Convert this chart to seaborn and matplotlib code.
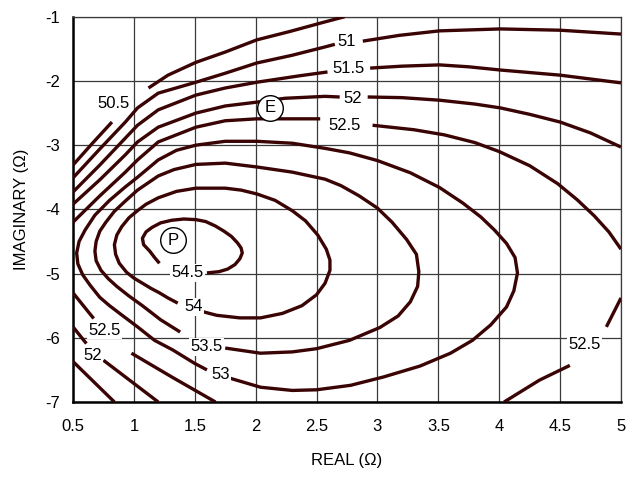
import pandas as pd
import seaborn as sns
import matplotlib.pyplot as plt

sns.set_style("whitegrid")
plt.rcParams["font.family"] = ["Liberation Sans", "DejaVu Sans"]
plt.rcParams["axes.unicode_minus"] = False

LINE_COLOR = "#3b0404"

# contour segments: real (ohm), imaginary (ohm)
c50_5a_x = [0.50, 0.66, 0.82]
c50_5a_y = [-3.31, -2.97, -2.64]
c50_5b_x = [1.12, 1.28, 1.51, 1.75, 2.01, 2.28, 2.57, 2.73]
c50_5b_y = [-2.11, -1.91, -1.71, -1.55, -1.36, -1.23, -1.08, -1.00]

c51a_x = [0.50, 0.72, 0.93, 1.03, 1.20, 1.51, 1.75, 2.01, 2.30, 2.57, 2.65]
c51a_y = [-3.51, -3.06, -2.64, -2.42, -2.19, -2.02, -1.88, -1.72, -1.60, -1.47, -1.43]
c51b_x = [2.88, 3.18, 3.51, 4.01, 4.50, 5.00]
c51b_y = [-1.38, -1.29, -1.22, -1.19, -1.21, -1.27]

c51_5a_x = [0.50, 0.72, 0.93, 1.03, 1.20, 1.51, 1.75, 2.01, 2.36, 2.59]
c51_5a_y = [-3.73, -3.31, -2.89, -2.69, -2.45, -2.22, -2.11, -2.02, -1.92, -1.86]
c51_5b_x = [2.94, 3.20, 3.51, 3.75, 4.01, 4.50, 5.00]
c51_5b_y = [-1.80, -1.77, -1.75, -1.78, -1.83, -1.91, -2.03]
c51_5c_x = [0.50, 0.84]
c51_5c_y = [-6.37, -7.00]

c52a_x = [0.50, 0.72, 0.93, 1.03, 1.20, 1.51, 1.75, 2.01, 2.24, 2.57, 2.69]
c52a_y = [-3.92, -3.54, -3.15, -2.95, -2.72, -2.50, -2.39, -2.33, -2.27, -2.24, -2.25]
c52b_x = [2.92, 3.20, 3.51, 3.80, 4.01, 4.25, 4.50, 4.75, 5.00]
c52b_y = [-2.25, -2.26, -2.30, -2.36, -2.42, -2.52, -2.64, -2.81, -3.03]
c52c_x = [0.50, 0.61]
c52c_y = [-5.83, -6.09]
c52d_x = [0.75, 1.20]
c52d_y = [-6.35, -7.00]

c52_5a_x = [0.50, 0.72, 0.93, 1.03, 1.20, 1.51, 1.75, 2.01, 2.53]
c52_5a_y = [-4.20, -3.79, -3.42, -3.23, -2.95, -2.72, -2.62, -2.59, -2.59]
c52_5b_x = [2.96, 3.30, 3.55, 3.80, 4.00, 4.25, 4.48, 4.64, 4.78, 4.90, 5.00]
c52_5b_y = [-2.69, -2.76, -2.84, -2.96, -3.10, -3.32, -3.60, -3.85, -4.10, -4.35, -4.62]
c52_5c_x = [5.00, 4.88]
c52_5c_y = [-5.38, -5.83]
c52_5d_x = [4.58, 4.33, 4.04]
c52_5d_y = [-6.43, -6.66, -7.00]
c52_5e_x = [0.50, 0.67]
c52_5e_y = [-5.30, -5.70]
c52_5f_x = [0.98, 1.32, 1.67]
c52_5f_y = [-6.24, -6.62, -7.00]

c53_x = [1.79, 2.04, 2.30, 2.50, 2.78, 3.05, 3.35, 3.60, 3.78, 3.93, 4.06, 4.12, 4.15,
         4.13, 4.06, 3.96, 3.85, 3.70, 3.51, 3.27, 3.00, 2.77, 2.57, 2.30, 2.01, 1.75,
         1.51, 1.35, 1.20, 1.03, 0.93, 0.80, 0.68, 0.60, 0.55, 0.53, 0.54, 0.58, 0.64,
         0.72, 0.80, 0.89, 1.03, 1.17, 1.32, 1.50, 1.60]
c53_y = [-6.63, -6.77, -6.82, -6.81, -6.74, -6.61, -6.44, -6.24, -6.04, -5.80, -5.52, -5.27, -4.99,
         -4.75, -4.53, -4.32, -4.12, -3.90, -3.66, -3.43, -3.24, -3.12, -3.05, -2.97, -2.94, -2.94,
         -3.00, -3.08, -3.23, -3.50, -3.65, -3.86, -4.09, -4.32, -4.50, -4.68, -4.85, -5.02, -5.18,
         -5.37, -5.50, -5.63, -5.83, -6.04, -6.19, -6.40, -6.50]

c53_5_x = [1.75, 2.04, 2.30, 2.50, 2.77, 3.02, 3.17, 3.27, 3.33, 3.34, 3.32, 3.24, 3.12,
           3.00, 2.85, 2.70, 2.57, 2.30, 2.01, 1.75, 1.51, 1.33, 1.20, 1.03, 0.93, 0.84,
           0.77, 0.72, 0.69, 0.68, 0.69, 0.73, 0.79, 0.86, 0.96, 1.07, 1.22, 1.38]
c53_5_y = [-6.16, -6.24, -6.22, -6.17, -6.04, -5.84, -5.66, -5.44, -5.20, -4.97, -4.70, -4.47, -4.20,
           -3.98, -3.79, -3.63, -3.53, -3.42, -3.34, -3.28, -3.30, -3.38, -3.48, -3.70, -3.87, -4.03,
           -4.20, -4.34, -4.50, -4.65, -4.80, -4.95, -5.08, -5.20, -5.35, -5.50, -5.72, -5.91]

c54_x = [1.54, 1.68, 1.87, 2.04, 2.22, 2.38, 2.50, 2.57, 2.61, 2.61, 2.58, 2.51, 2.41,
         2.30, 2.16, 2.01, 1.88, 1.75, 1.51, 1.35, 1.20, 1.10, 1.03, 0.96, 0.90, 0.86,
         0.84, 0.85, 0.88, 0.94, 1.00, 1.07, 1.14, 1.21, 1.28, 1.36]
c54_y = [-5.58, -5.65, -5.69, -5.69, -5.62, -5.50, -5.33, -5.15, -4.95, -4.79, -4.62, -4.40, -4.18,
         -4.02, -3.86, -3.76, -3.70, -3.67, -3.67, -3.72, -3.82, -3.92, -4.02, -4.13, -4.27, -4.40,
         -4.55, -4.70, -4.84, -4.98, -5.07, -5.15, -5.23, -5.30, -5.38, -5.46]

c54_5_x = [1.60, 1.70, 1.77, 1.83, 1.87, 1.89, 1.88, 1.85, 1.80, 1.74, 1.67, 1.59, 1.51,
           1.41, 1.31, 1.22, 1.15, 1.10, 1.07, 1.08, 1.13, 1.17, 1.21]
c54_5_y = [-4.99, -4.97, -4.93, -4.86, -4.77, -4.68, -4.60, -4.52, -4.42, -4.34, -4.26, -4.19, -4.16,
           -4.15, -4.17, -4.21, -4.28, -4.35, -4.45, -4.55, -4.65, -4.75, -4.84]

SEGMENTS = [
    ("50.5a", c50_5a_x, c50_5a_y), ("50.5b", c50_5b_x, c50_5b_y),
    ("51a", c51a_x, c51a_y), ("51b", c51b_x, c51b_y),
    ("51.5a", c51_5a_x, c51_5a_y), ("51.5b", c51_5b_x, c51_5b_y), ("51.5c", c51_5c_x, c51_5c_y),
    ("52a", c52a_x, c52a_y), ("52b", c52b_x, c52b_y), ("52c", c52c_x, c52c_y), ("52d", c52d_x, c52d_y),
    ("52.5a", c52_5a_x, c52_5a_y), ("52.5b", c52_5b_x, c52_5b_y), ("52.5c", c52_5c_x, c52_5c_y),
    ("52.5d", c52_5d_x, c52_5d_y), ("52.5e", c52_5e_x, c52_5e_y), ("52.5f", c52_5f_x, c52_5f_y),
    ("53", c53_x, c53_y), ("53.5", c53_5_x, c53_5_y), ("54", c54_x, c54_y), ("54.5", c54_5_x, c54_5_y),
]

# contour value labels
label_text = ["50.5", "51", "51.5", "52", "52.5", "54.5", "54", "53.5", "53", "52.5", "52", "52.5"]
label_x = [0.83, 2.75, 2.76, 2.80, 2.73, 1.44, 1.49, 1.60, 1.71, 0.76, 0.66, 4.70]
label_y = [-2.35, -1.39, -1.81, -2.28, -2.69, -4.99, -5.52, -6.14, -6.57, -5.88, -6.27, -6.11]

# E and P impedance points
point_name = ["E", "P"]
point_real = [2.12, 1.32]
point_imag = [-2.42, -4.48]

x_ticks = [0.5, 1, 1.5, 2, 2.5, 3, 3.5, 4, 4.5, 5]
x_tick_labels = ["0.5", "1", "1.5", "2", "2.5", "3", "3.5", "4", "4.5", "5"]
y_ticks = [-1, -2, -3, -4, -5, -6, -7]
y_tick_labels = ["-1", "-2", "-3", "-4", "-5", "-6", "-7"]


def build_frame() -> pd.DataFrame:
    rows = []
    for name, xs, ys in SEGMENTS:
        for i, (x, y) in enumerate(zip(xs, ys)):
            rows.append({"segment": name, "order": i, "real": x, "imag": y})
    return pd.DataFrame(rows)


def main():
    df = build_frame()

    fig = plt.figure(figsize=(6.26, 4.78), dpi=100)
    ax = fig.add_axes([0.1166, 0.159, 0.8754, 0.806])

    sns.lineplot(
        data=df, x="real", y="imag", units="segment", estimator=None, sort=False,
        color=LINE_COLOR, lw=2.4, solid_capstyle="butt", solid_joinstyle="round",
        ax=ax, zorder=3,
    )

    # contour labels sit on a white patch that hides the grid
    for s, x, y in zip(label_text, label_x, label_y):
        ax.text(x, y, s, ha="center", va="center", fontsize=12, color="black", zorder=5,
                bbox=dict(facecolor="white", edgecolor="none", pad=1.0))

    pts = pd.DataFrame({"real": point_real, "imag": point_imag, "name": point_name})
    sns.scatterplot(data=pts, x="real", y="imag", s=340, color="white",
                    edgecolor="black", linewidth=1.0, ax=ax, zorder=6)
    for s, x, y in zip(point_name, point_real, point_imag):
        ax.text(x, y, s, ha="center", va="center", fontsize=12, color="black", zorder=7)

    ax.set_xlim(0.5, 5)
    ax.set_ylim(-7, -1)
    ax.set_xticks(x_ticks)
    ax.set_xticklabels(x_tick_labels)
    ax.set_yticks(y_ticks)
    ax.set_yticklabels(y_tick_labels)
    ax.tick_params(length=0, labelsize=12, colors="black")
    ax.tick_params(axis="x", pad=12)
    ax.tick_params(axis="y", pad=9)

    ax.grid(True, color="#3a3a3a", lw=0.9)
    for side in ["top", "right"]:
        ax.spines[side].set_color("#3a3a3a")
        ax.spines[side].set_linewidth(0.9)
    for side in ["left", "bottom"]:
        ax.spines[side].set_color("black")
        ax.spines[side].set_linewidth(1.8)

    ax.set_xlabel("REAL (Ω)", fontsize=12, labelpad=14, color="black")
    ax.set_ylabel("IMAGINARY (Ω)", fontsize=12, labelpad=12, color="black")

    plt.savefig("out.png", dpi=100)


if __name__ == "__main__":
    main()
